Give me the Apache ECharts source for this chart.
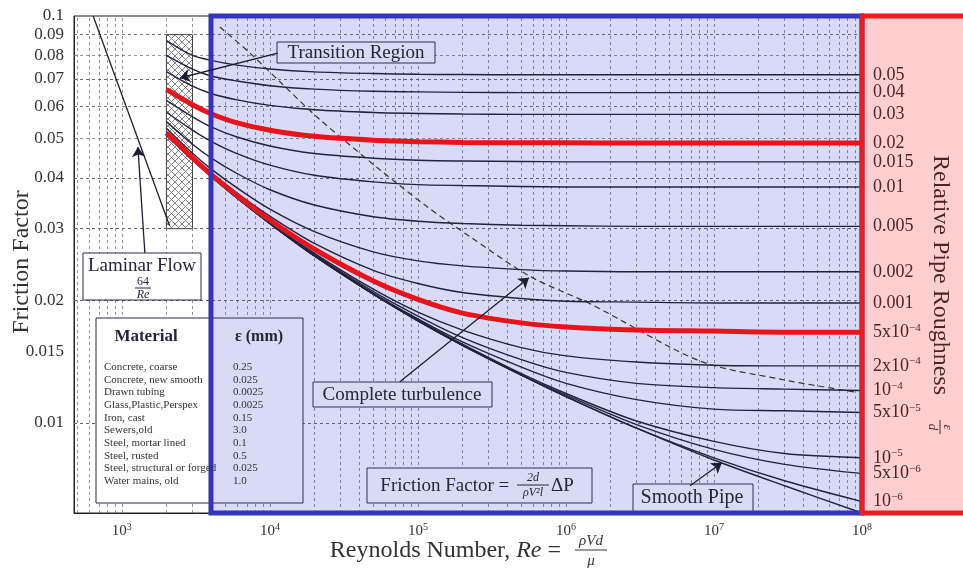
<!DOCTYPE html>
<html><head><meta charset="utf-8">
<script src="https://cdn.jsdelivr.net/npm/echarts@6/dist/echarts.min.js"></script>
<style>html,body{margin:0;padding:0;background:#fff}#c{width:963px;height:577px}</style>
</head><body><div id="c"></div>
<script>
const SERIF = '"Liberation Serif", "DejaVu Serif", serif';

// ---- Data ----
const reynolds = [2000, 3000, 4000, 6000, 1e4, 2e4, 5e4, 1e5, 2e5, 5e5, 1e6, 3e6, 1e7, 3e7, 1e8];
const f_0_05   = [0.087, 0.0800, 0.0778, 0.0757, 0.0741, 0.0729, 0.0722, 0.0719, 0.0718, 0.0717, 0.0717, 0.0717, 0.0717, 0.0717, 0.0717];
const f_0_04   = [0.080, 0.0740, 0.0712, 0.0692, 0.0674, 0.0661, 0.0653, 0.0651, 0.0649, 0.0648, 0.0648, 0.0648, 0.0648, 0.0648, 0.0648];
const f_0_03   = [0.073, 0.0672, 0.0645, 0.0622, 0.0603, 0.0588, 0.0579, 0.0576, 0.0574, 0.0573, 0.0573, 0.0573, 0.0573, 0.0573, 0.0573];
const f_0_02   = [0.066, 0.0605, 0.0575, 0.0546, 0.0524, 0.0506, 0.0495, 0.0491, 0.0489, 0.0488, 0.0488, 0.0487, 0.0487, 0.0487, 0.0487];
const f_0_015  = [0.062, 0.0565, 0.0534, 0.0504, 0.0479, 0.0459, 0.0447, 0.0442, 0.0440, 0.0439, 0.0438, 0.0438, 0.0438, 0.0438, 0.0438];
const f_0_01   = [0.058, 0.0524, 0.0492, 0.0459, 0.0430, 0.0406, 0.0391, 0.0385, 0.0383, 0.0381, 0.0380, 0.0380, 0.0380, 0.0380, 0.0380];
const f_0_005  = [0.055, 0.0484, 0.0448, 0.0410, 0.0374, 0.0343, 0.0321, 0.0313, 0.0309, 0.0306, 0.0305, 0.0304, 0.0304, 0.0304, 0.0304];
const f_0_002  = [0.053, 0.0460, 0.0421, 0.0378, 0.0335, 0.0295, 0.0263, 0.0250, 0.0243, 0.0238, 0.0236, 0.0235, 0.0235, 0.0235, 0.0235];
const f_0_001  = [0.052, 0.0452, 0.0412, 0.0367, 0.0322, 0.0276, 0.0237, 0.0220, 0.0209, 0.0202, 0.0199, 0.0198, 0.0197, 0.0197, 0.0197];
const f_5e_4   = [0.0516, 0.0448, 0.0408, 0.0362, 0.0315, 0.0267, 0.0223, 0.0201, 0.0186, 0.0176, 0.0172, 0.0169, 0.0168, 0.0167, 0.0167];
const f_2e_4   = [0.0512, 0.0445, 0.0406, 0.0359, 0.0311, 0.0261, 0.0213, 0.0187, 0.0169, 0.0153, 0.0146, 0.0141, 0.01385, 0.0138, 0.0138];
const f_1e_4   = [0.0511, 0.0444, 0.0405, 0.0358, 0.0310, 0.0259, 0.0210, 0.0183, 0.0162, 0.0143, 0.0133, 0.0125, 0.0122, 0.0121, 0.0120];
const f_5e_5   = [0.0510, 0.0444, 0.0404, 0.0358, 0.0309, 0.0258, 0.0208, 0.0180, 0.0158, 0.0137, 0.0125, 0.0114, 0.0108, 0.0107, 0.0106];
const f_1e_5   = [0.0510, 0.0443, 0.0404, 0.0357, 0.0309, 0.0258, 0.0207, 0.0179, 0.0156, 0.0132, 0.0118, 0.0101, 0.0090, 0.0084, 0.0082];
const f_5e_6   = [0.0510, 0.0443, 0.0404, 0.0357, 0.0309, 0.0257, 0.0207, 0.0178, 0.0155, 0.0131, 0.0117, 0.0099, 0.0086, 0.0079, 0.0075];
const f_1e_6   = [0.0509, 0.0443, 0.0404, 0.0357, 0.0309, 0.0257, 0.0207, 0.0178, 0.0155, 0.0131, 0.0116, 0.0097, 0.0082, 0.0072, 0.0064];
const f_smooth = [0.0509, 0.0443, 0.0404, 0.0357, 0.0309, 0.0257, 0.0207, 0.0178, 0.0155, 0.0131, 0.0116, 0.0097, 0.0081, 0.0070, 0.0060];

const roughnessLabels = ['0.05','0.04','0.03','0.02','0.015','0.01','0.005','0.002','0.001',
  '5x10{s|−4}','2x10{s|−4}','10{s|−4}','5x10{s|−5}','10{s|−5}','5x10{s|−6}','10{s|−6}', ''];
const curveValues = [f_0_05, f_0_04, f_0_03, f_0_02, f_0_015, f_0_01, f_0_005, f_0_002, f_0_001,
  f_5e_4, f_2e_4, f_1e_4, f_5e_5, f_1e_5, f_5e_6, f_1e_6, f_smooth];
const redCurves = ['0.02', '5x10{s|−4}'];

const laminarRe = [640, 2100];
const laminarF  = [0.1, 0.0305];

const turbRe = [4590, 7330, 11700, 21100, 55300, 115000, 224000, 572000, 1.5e6, 8.0e6, 2.8e7, 9.0e7];
const turbF  = [0.0940, 0.0811, 0.0689, 0.0562, 0.0419, 0.0340, 0.0287, 0.0229, 0.0195, 0.0142, 0.0128, 0.0119];

const xTickValues = [1e3, 1e4, 1e5, 1e6, 1e7, 1e8];
const yTickValues = [0.01, 0.015, 0.02, 0.03, 0.04, 0.05, 0.06, 0.07, 0.08, 0.09, 0.1];
const yGridValues = [0.006,0.007,0.008,0.009,0.01,0.011,0.012,0.013,0.014,0.015,0.016,0.017,0.018,0.019,0.02,
  0.022,0.024,0.026,0.028,0.03,0.032,0.034,0.036,0.038,0.04,0.045,0.05,0.055,0.06,0.065,0.07,0.075,0.08,0.085,0.09];
const xGridValues = [500,600,700,800,900];
[1e3,1e4,1e5,1e6,1e7].forEach(d => { for (let m = 1; m <= 9; m++) xGridValues.push(m*d); });

// arrows: [fromRe, fromF, toRe, toF]
const arrows = [
  [11300, 0.0811, 2466, 0.0704],
  [1430, 0.02617, 1283, 0.04765],
  [75500, 0.01261, 562000, 0.02272],
  [6.89e6, 0.0070, 1.13e7, 0.00797]
];

const materials = ['Concrete, coarse','Concrete, new smooth','Drawn tubing','Glass,Plastic,Perspex','Iron, cast',
  'Sewers,old','Steel, mortar lined','Steel, rusted','Steel, structural or forged','Water mains, old'];
const materialEps = ['0.25','0.025','0.0025','0.0025','0.15','3.0','0.1','0.5','0.025','1.0'];

// ---- Chart ----
const chart = echarts.init(document.getElementById('c'), null, {renderer: 'canvas'});
const supRich = {s: {fontSize: 11, fontFamily: SERIF, verticalAlign: 'top', padding: [0, 0, 9, 0], color: '#4b2626'}};

const series = [];
series.push({
  type: 'line', data: [[1000, 0.05]], symbol: 'none', lineStyle: {width: 0}, z: 1, silent: true,
  markLine: {z: 1, silent: true, symbol: ['none', 'none'], label: {show: false}, animation: false,
    lineStyle: {type: [3, 3], color: '#666', width: 0.7},
    data: xGridValues.map(v => ({xAxis: v})).concat(yGridValues.map(v => ({yAxis: v})))}
});
curveValues.forEach((vals, i) => {
  const lab = roughnessLabels[i];
  const red = redCurves.includes(lab);
  series.push({
    type: 'line', name: 'c' + i, data: reynolds.map((r, k) => [r, vals[k]]),
    symbol: 'none', showSymbol: false, smooth: 0.3, z: red ? 6 : 5, silent: true,
    lineStyle: {color: red ? '#e8141c' : '#23233f', width: red ? 5 : 1.4},
    endLabel: {show: !!lab, formatter: () => lab, distance: 11, color: '#4b2626',
      fontFamily: SERIF, fontSize: 18, rich: supRich}
  });
});
series.push({type: 'line', data: laminarRe.map((r, k) => [r, laminarF[k]]), symbol: 'none', z: 5,
  lineStyle: {color: '#222', width: 1.3}, silent: true});
series.push({type: 'line', data: turbRe.map((r, k) => [r, turbF[k]]), symbol: 'none', smooth: 0.3, z: 5,
  lineStyle: {color: '#333', width: 1.2, type: [6, 4]}, silent: true});
series.push({type: 'line', data: [[1000, 0.05]], symbol: 'none', lineStyle: {width: 0}, z: 9, silent: true,
  markLine: {z: 9, silent: true, symbol: ['none', 'arrow'], symbolSize: 10, label: {show: false}, animation: false,
    lineStyle: {type: 'solid', color: '#1d1d30', width: 1.3},
    data: arrows.map(a => [{coord: [a[0], a[1]]}, {coord: [a[2], a[3]]}])}});

const option = {
  animation: false,
  grid: {left: 74, right: 101, top: 16, bottom: 64, show: true, backgroundColor: '#fff', borderColor: '#222', borderWidth: 1},
  xAxis: {type: 'log', logBase: 10, min: 475, max: 1e8,
    axisLine: {show: true, lineStyle: {color: '#222'}}, axisTick: {show: false}, splitLine: {show: false},
    axisLabel: {customValues: xTickValues, margin: 9, color: '#333', fontFamily: SERIF, fontSize: 15,
      formatter: v => { const e = Math.log10(v); if (Math.abs(e - Math.round(e)) > 1e-6) return ''; return '10{s|' + Math.round(e) + '}'; },
      rich: {s: {fontSize: 10, fontFamily: SERIF, verticalAlign: 'top', padding: [0, 0, 8, 0], color: '#333'}}}},
  yAxis: {type: 'log', logBase: 10, min: 0.006, max: 0.1,
    axisLine: {show: true, lineStyle: {color: '#222'}}, axisTick: {show: false}, splitLine: {show: false},
    axisLabel: {customValues: yTickValues, margin: 10, color: '#333', fontFamily: SERIF, fontSize: 17,
      formatter: v => { const s = String(+v.toPrecision(3)); return yTickValues.some(t => Math.abs(t - v) < 1e-9) ? s : ''; }}},
  series: series
};
chart.setOption(option);

// ---- Decorations positioned through the axes ----
const P = (x, y) => chart.convertToPixel({gridIndex: 0}, [x, y]);
const topY = P(1000, 0.1)[1], botY = P(1000, 0.006)[1];
const blueX = P(4000, 0.05)[0], rightX = P(1e8, 0.05)[0];
const h0 = P(2000, 0.09), h1 = P(3000, 0.03);

const pc = document.createElement('canvas'); pc.width = 7; pc.height = 7;
const g = pc.getContext('2d'); g.fillStyle = '#fff'; g.fillRect(0, 0, 7, 7);
g.strokeStyle = '#777'; g.lineWidth = 0.9; g.beginPath();
g.moveTo(0, 0); g.lineTo(7, 7); g.moveTo(7, 0); g.lineTo(0, 7); g.stroke();

const TXT = '#262636';
function text(x, y, t, size, opts) {
  return Object.assign({type: 'text', x: x, y: y, z: 10, silent: true,
    style: Object.assign({text: t, fontSize: size, fontFamily: SERIF, fill: TXT, align: 'center', verticalAlign: 'middle'}, (opts || {}).style || {})},
    (opts || {}).el || {});
}
function box(x, y, w, h, z) {
  return {type: 'rect', z: z || 2, silent: true, shape: {x: x, y: y, width: w, height: h}, style: {fill: '#fff', stroke: '#2a2a3a', lineWidth: 1}};
}
function hline(x1, x2, y, z) {
  return {type: 'line', z: z || 10, silent: true, shape: {x1: x1, y1: y, x2: x2, y2: y}, style: {stroke: TXT, lineWidth: 1}};
}

const els = [];
// white label boxes (under the blue tint)
els.push(box(96, 318, 207, 185));
els.push(box(83, 253, 118, 47));
els.push({type: 'rect', z: 2, silent: true, shape: {x: h0[0], y: h0[1], width: h1[0] - h0[0], height: h1[1] - h0[1]},
  style: {fill: {image: pc, repeat: 'repeat'}, stroke: '#444', lineWidth: 1}});
els.push(box(277, 42, 158, 21));
els.push(box(313, 382, 179, 25));
els.push(box(367, 468, 225, 35));
els.push(box(633, 484, 120, 30));
// blue tinted region
els.push({type: 'rect', z: 3, silent: true, shape: {x: blueX, y: topY, width: rightX - blueX, height: botY - topY},
  style: {fill: 'rgba(55,65,205,0.19)', stroke: null}});
// red panel
els.push({type: 'rect', z: 4, silent: true, shape: {x: rightX, y: topY, width: 120, height: botY - topY},
  style: {fill: '#ffcfd0', stroke: null}});
// borders
els.push({type: 'rect', z: 7, silent: true, shape: {x: blueX, y: topY, width: rightX - blueX, height: botY - topY},
  style: {fill: null, stroke: '#3434c0', lineWidth: 5}});
els.push({type: 'rect', z: 8, silent: true, shape: {x: rightX, y: topY, width: 120, height: botY - topY},
  style: {fill: null, stroke: '#ee1c1c', lineWidth: 5}});

// box texts
els.push(text(356, 53, 'Transition Region', 19));
els.push(text(402, 395, 'Complete turbulence', 19));
els.push(text(692, 498, 'Smooth Pipe', 20));
els.push(text(142, 266, 'Laminar Flow', 19));
els.push(text(143, 282, '64', 12, {style: {fontStyle: 'normal'}}));
els.push(hline(135, 151, 288));
els.push(text(143, 295, 'Re', 12, {style: {fontStyle: 'italic'}}));
els.push(text(514, 486, 'Friction Factor = ', 19, {style: {align: 'right'}}));
els.push(text(533, 478, '2d', 12, {style: {fontStyle: 'italic'}}));
els.push(hline(517, 549, 485));
els.push(text(533, 493, 'ρV²l', 12, {style: {fontStyle: 'italic'}}));
els.push(text(551, 486, 'ΔP', 19, {style: {align: 'left'}}));
// material table
els.push(text(146, 337, 'Material', 17, {style: {fontWeight: 'bold'}}));
els.push(text(259, 337, 'ε (mm)', 16, {style: {fontWeight: 'bold'}}));
materials.forEach((m, i) => {
  const y = 367 + i * 12.7;
  els.push(text(104, y, m, 11, {style: {align: 'left', fill: '#333'}}));
  els.push(text(233, y, materialEps[i], 11, {style: {align: 'left', fill: '#333'}}));
});
// axis titles
els.push(text(22, 262, 'Friction Factor', 24, {el: {rotation: Math.PI / 2}, style: {fill: '#333'}}));
els.push(text(567, 551, '{n|Reynolds Number, }{i|Re}{n| = }', 24, {style: {align: 'right', fill: '#333',
  rich: {n: {fontSize: 24, fontFamily: SERIF, fill: '#333'}, i: {fontSize: 24, fontFamily: SERIF, fontStyle: 'italic', fill: '#333'}}}}));
els.push(text(591, 541, 'ρVd', 15, {style: {fontStyle: 'italic', fill: '#333'}}));
els.push({type: 'line', z: 10, silent: true, shape: {x1: 575, y1: 550, x2: 607, y2: 550}, style: {stroke: '#333', lineWidth: 1}});
els.push(text(591, 561, 'μ', 15, {style: {fontStyle: 'italic', fill: '#333'}}));
els.push({type: 'group', x: 940, y: 155, rotation: -Math.PI / 2, z: 10, silent: true, children: [
  {type: 'text', x: 0, y: 0, z: 10, style: {text: 'Relative Pipe Roughness', fontSize: 24, fontFamily: SERIF, fill: '#4b2626', align: 'left', verticalAlign: 'middle'}},
  {type: 'text', x: 272, y: -7, z: 10, style: {text: 'ε', fontSize: 13, fontFamily: SERIF, fontStyle: 'italic', fill: '#4b2626', align: 'center', verticalAlign: 'middle'}},
  {type: 'line', z: 10, shape: {x1: 265, y1: 0, x2: 279, y2: 0}, style: {stroke: '#4b2626', lineWidth: 1}},
  {type: 'text', x: 272, y: 8, z: 10, style: {text: 'd', fontSize: 13, fontFamily: SERIF, fontStyle: 'italic', fill: '#4b2626', align: 'center', verticalAlign: 'middle'}}
]});

chart.setOption({graphic: {elements: els}});
</script>
</body></html>
